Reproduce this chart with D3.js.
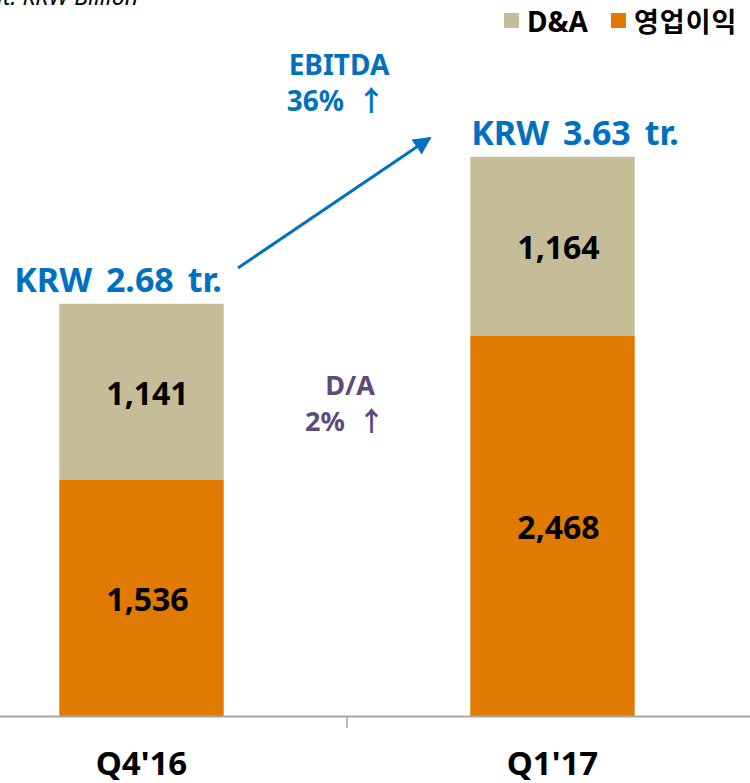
<!DOCTYPE html>
<html>
<head>
<meta charset="utf-8">
<script src="https://cdn.jsdelivr.net/npm/d3@7"></script>
<style>
  body { margin: 0; background: #fff; }
  svg { display: block; }
  text { font-family: "Noto Sans", "Noto Sans CJK KR", sans-serif; font-weight: bold; }
</style>
</head>
<body>
<div id="chart"></div>
<script>
var width = 750;
var height = 783;

// data
var quarters = ["Q4'16", "Q1'17"];
var opProfit = [1536, 2468];     // 영업이익
var da = [1141, 1164];           // D&A
var totalLabels = ["KRW 2.68 tr.", "KRW 3.63 tr."];
var seriesNames = ["D&A", "영업이익"];
var seriesColors = ["#C4BD97", "#E17A00"];

var svg = d3.select("#chart")
    .append("svg")
    .attr("width", width)
    .attr("height", height);

var x = d3.scaleBand()
    .domain(quarters)
    .range([-64, 758])
    .paddingInner(0.6)
    .paddingOuter(0.3);

var y = d3.scaleLinear()
    .domain([0, 4650])
    .range([716, 0]);

// stacks
var rows = quarters.map(function(q, i) { return { q: q, op: opProfit[i], da: da[i] }; });
var stack = d3.stack().keys(["op", "da"])(rows);
var fills = { op: seriesColors[1], da: seriesColors[0] };

svg.selectAll("g.layer")
    .data(stack)
    .enter()
    .append("g")
    .attr("class", "layer")
    .attr("fill", function(d) { return fills[d.key]; })
    .selectAll("rect")
    .data(function(d) { return d; })
    .enter()
    .append("rect")
    .attr("x", function(d) { return x(d.data.q); })
    .attr("y", function(d) { return y(d[1]); })
    .attr("width", x.bandwidth())
    .attr("height", function(d) { return y(d[0]) - y(d[1]); });

// value labels in segments
stack.forEach(function(layer) {
    svg.append("g")
        .selectAll("text")
        .data(layer)
        .enter()
        .append("text")
        .attr("x", function(d) { return x(d.data.q) + x.bandwidth() / 2 + 6; })
        .attr("y", function(d) { return (y(d[0]) + y(d[1])) / 2 + 13; })
        .attr("text-anchor", "middle")
        .attr("font-size", 32)
        .attr("fill", "#000")
        .text(function(d) { return d3.format(",")(d[1] - d[0]); });
});

// totals
var totalShift = [-45, 1];
svg.selectAll("text.total")
    .data(rows)
    .enter()
    .append("text")
    .attr("class", "total")
    .attr("x", function(d, i) { return x(d.q) + totalShift[i]; })
    .attr("y", function(d) { return y(d.op + d.da) - 12; })
    .attr("font-size", 34)
    .style("word-spacing", "5px")
    .attr("fill", "#0070C0")
    .text(function(d, i) { return totalLabels[i]; });

// x axis
svg.append("line")
    .attr("x1", 0).attr("x2", width)
    .attr("y1", y(0) + 0.5).attr("y2", y(0) + 0.5)
    .attr("stroke", "#A6A6A6")
    .attr("stroke-width", 2);
svg.append("line")
    .attr("x1", 347).attr("x2", 347)
    .attr("y1", y(0)).attr("y2", y(0) + 12)
    .attr("stroke", "#A6A6A6")
    .attr("stroke-width", 1.5);

svg.selectAll("text.cat")
    .data(quarters)
    .enter()
    .append("text")
    .attr("class", "cat")
    .attr("x", function(d) { return x(d) + x.bandwidth() / 2; })
    .attr("y", 775)
    .attr("text-anchor", "middle")
    .attr("font-size", 33)
    .attr("fill", "#000")
    .text(function(d) { return d; });

// EBITDA arrow
svg.append("defs")
    .append("marker")
    .attr("id", "head")
    .attr("viewBox", "0 0 10 10")
    .attr("refX", 9).attr("refY", 5)
    .attr("markerWidth", 6).attr("markerHeight", 6)
    .attr("orient", "auto")
    .append("path")
    .attr("d", "M0,0L10,5L0,10Z")
    .attr("fill", "#0070C0");

svg.append("line")
    .attr("x1", 238).attr("y1", 268)
    .attr("x2", 430).attr("y2", 138)
    .attr("stroke", "#0070C0")
    .attr("stroke-width", 3)
    .attr("marker-end", "url(#head)");

svg.append("text")
    .attr("x", 339).attr("y", 75)
    .attr("text-anchor", "middle")
    .attr("font-size", 28)
    .attr("fill", "#0070C0")
    .text("EBITDA");
svg.append("text")
    .attr("x", 336).attr("y", 111)
    .attr("text-anchor", "middle")
    .attr("font-size", 28)
    .style("word-spacing", "6px")
    .attr("fill", "#0070C0")
    .text("36% ↑");

svg.append("text")
    .attr("x", 350).attr("y", 395)
    .attr("text-anchor", "middle")
    .attr("font-size", 27)
    .attr("fill", "#604A7B")
    .text("D/A");
svg.append("text")
    .attr("x", 345).attr("y", 431)
    .attr("text-anchor", "middle")
    .attr("font-size", 27)
    .style("word-spacing", "6px")
    .attr("fill", "#604A7B")
    .text("2% ↑");

// unit note
svg.append("text")
    .attr("x", 138).attr("y", 5)
    .attr("text-anchor", "end")
    .attr("font-size", 23)
    .style("font-style", "italic")
    .style("font-weight", "normal")
    .attr("fill", "#000")
    .text("Unit: KRW Billion");

// legend
var legend = svg.append("g");
var legendX = [504, 611];
legend.selectAll("rect")
    .data(seriesNames)
    .enter()
    .append("rect")
    .attr("x", function(d, i) { return legendX[i]; })
    .attr("y", 13)
    .attr("width", 15).attr("height", 15)
    .attr("fill", function(d, i) { return seriesColors[i]; });
legend.selectAll("text")
    .data(seriesNames)
    .enter()
    .append("text")
    .attr("x", function(d, i) { return legendX[i] + 23; })
    .attr("y", 32)
    .attr("font-size", function(d, i) { return i == 0 ? 28 : 27; })
    .style("letter-spacing", function(d, i) { return i == 0 ? "0px" : "1px"; })
    .style("font-family", "'Noto Sans', 'Noto Sans CJK KR', sans-serif")
    .attr("fill", "#000")
    .text(function(d) { return d; });
</script>
</body>
</html>
